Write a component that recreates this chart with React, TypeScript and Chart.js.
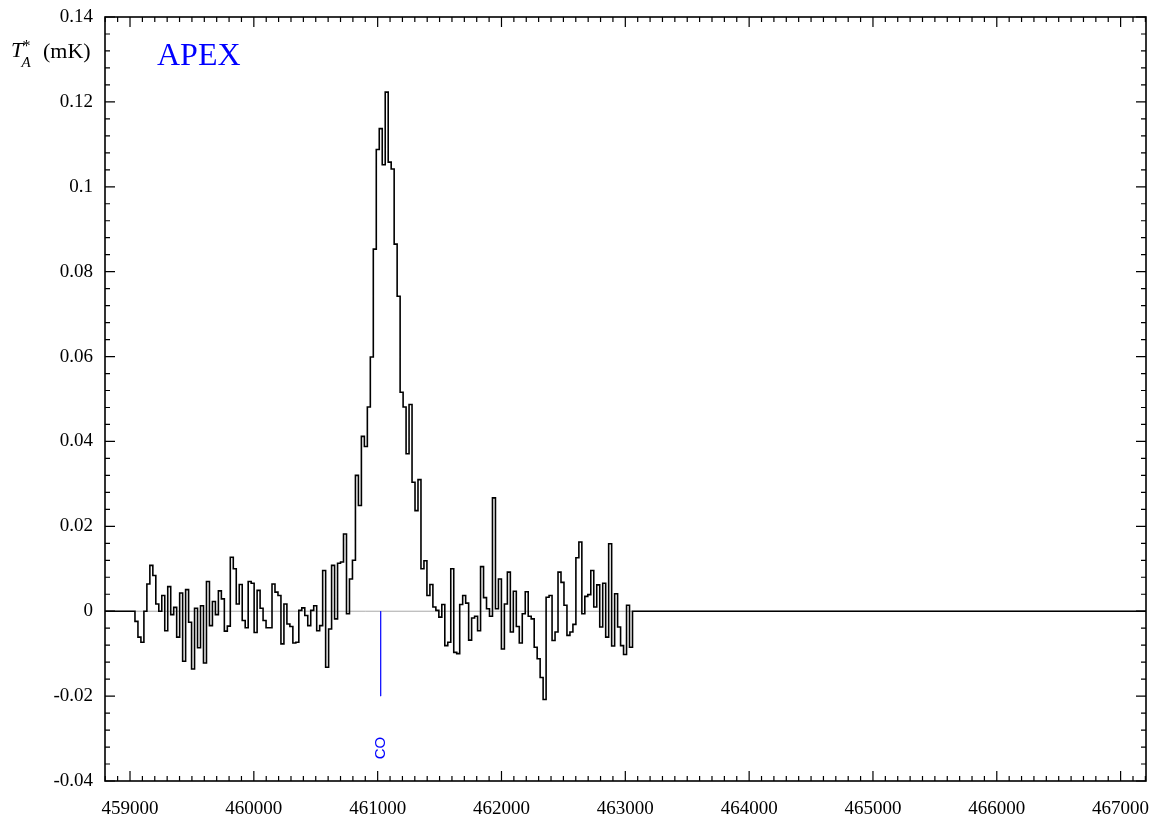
import { useEffect, useRef } from 'react';
import { Chart, registerables } from 'chart.js';

Chart.register(...registerables);

// ---- axis ranges & ticks ----
const X_MIN = 458798;
const X_MAX = 467205;
const Y_MIN = -0.04;
const Y_MAX = 0.14;
const X_TICKS = [459000, 460000, 461000, 462000, 463000, 464000, 465000, 466000, 467000];
const Y_TICKS = [-0.04, -0.02, 0, 0.02, 0.04, 0.06, 0.08, 0.1, 0.12, 0.14];
const X_MAJOR_STEP = 1000;
const X_MINOR_STEP = 100;
const Y_MAJOR_STEP = 0.02;
const Y_MINOR_STEP = 0.004;

// ---- spectrum channel grid (MHz) ----
const CHANNEL_START_MHZ = 459040;
const CHANNEL_WIDTH_MHZ = 24.06;

// ---- spectrum values (K), channel by channel ----
const baselineLeft = [
  -0.0024, -0.0061, -0.0073, 0.0, 0.0064, 0.0108, 0.0084, 0.0017, 0.0, 0.0037,
  -0.0046, 0.0058, -0.0008, 0.0009, -0.0061, 0.0043, -0.0118, 0.0051, -0.0026, -0.0136,
  0.0007, -0.0086, 0.0013, -0.0122, 0.007, -0.0034, 0.0023, -0.0008, 0.0048, 0.0029,
  -0.0047, -0.0035, 0.0127, 0.01, 0.0017, 0.0063, -0.0022, -0.0039, 0.007, 0.0066,
  -0.005, 0.0049, 0.0007, -0.0022, -0.0039, -0.0039, 0.0064, 0.0045, 0.0037, -0.0077,
  0.0017, -0.003, -0.0036, -0.0075, -0.0073, 0.0002, 0.0008, -0.001, -0.0034, 0.0002,
  0.0013, -0.0046, -0.0034, 0.0096, -0.0132, -0.0042, 0.0108, -0.0018, 0.0113, 0.0116,
  0.0182, -0.0006, 0.0076, 0.012,
];
const lineCore = [
  0.032, 0.0249, 0.0412, 0.0388, 0.0481, 0.0599, 0.0853, 0.1088, 0.1137, 0.1052,
  0.1223, 0.1058, 0.1042, 0.0865, 0.0742, 0.0516, 0.0481, 0.0371, 0.0487, 0.0304,
  0.0237, 0.031,
];
const baselineRight = [
  0.01, 0.0119, 0.0037, 0.0063, 0.001, 0.0002, -0.0014, 0.0016, -0.0081, -0.0073,
  0.01, -0.0097, -0.01, 0.0016, 0.0037, 0.0019, -0.0068, -0.0016, -0.0012, -0.0046,
  0.0105, 0.0032, 0.0006, -0.0012, 0.0267, 0.0006, 0.0076, -0.0089, 0.0017, 0.0092,
  -0.0049, 0.0047, -0.0036, -0.0075, -0.0006, 0.0046, -0.0012, -0.0018, -0.0085, -0.0112,
  -0.0156, -0.0208, 0.0033, 0.0037, -0.0069, -0.0049, 0.0092, 0.0068, 0.0014, -0.0057,
  -0.0049, -0.0031, 0.0126, 0.0163, -0.0006, 0.0035, 0.0039, 0.0096, 0.001, 0.0062,
  -0.0037, 0.0066, -0.0061, 0.0159, -0.0082, 0.0041, -0.0037, -0.0081, -0.0102, 0.0014,
  -0.0085,
];

// ---- line identification marker ----
const markerFreq = 461024;
const markerBottom = -0.02;
const markerLabel = 'CO';
const telescopeLabel = 'APEX';

const SERIF = '"Liberation Serif", "Times New Roman", Times, serif';
const SANS = '"Liberation Sans", Arial, Helvetica, sans-serif';

const spectrumValues = [...baselineLeft, ...lineCore, ...baselineRight];

function buildSpectrumPoints() {
  const pts: { x: number; y: number }[] = [{ x: X_MIN, y: 0 }];
  spectrumValues.forEach((v, i) => {
    pts.push({ x: CHANNEL_START_MHZ + i * CHANNEL_WIDTH_MHZ, y: v });
  });
  pts.push({ x: CHANNEL_START_MHZ + spectrumValues.length * CHANNEL_WIDTH_MHZ, y: 0 });
  pts.push({ x: X_MAX, y: 0 });
  return pts;
}

const framePlugin = {
  id: 'frameAndTicks',
  afterDatasetsDraw(chart: any) {
    const { ctx, chartArea } = chart;
    const xs = chart.scales.x;
    const ys = chart.scales.y;
    const { left, right, top, bottom } = chartArea;
    ctx.save();
    ctx.strokeStyle = '#000';
    ctx.lineWidth = 1.2;
    ctx.beginPath();
    const nx = Math.round((X_MAX - X_MIN) / X_MINOR_STEP) + 2;
    const fStart = Math.ceil(X_MIN / X_MINOR_STEP) * X_MINOR_STEP;
    for (let i = 0; i < nx; i++) {
      const f = fStart + i * X_MINOR_STEP;
      if (f > X_MAX) break;
      const px = xs.getPixelForValue(f);
      const major = Math.round(f) % X_MAJOR_STEP === 0;
      const len = major ? 10 : 5;
      ctx.moveTo(px, bottom);
      ctx.lineTo(px, bottom - len);
      ctx.moveTo(px, top);
      ctx.lineTo(px, top + len);
    }
    const ny = Math.round((Y_MAX - Y_MIN) / Y_MINOR_STEP);
    for (let i = 0; i <= ny; i++) {
      const v = Y_MIN + i * Y_MINOR_STEP;
      const py = ys.getPixelForValue(v);
      const major = i % Math.round(Y_MAJOR_STEP / Y_MINOR_STEP) === 0;
      const len = major ? 10 : 5;
      ctx.moveTo(left, py);
      ctx.lineTo(left + len, py);
      ctx.moveTo(right, py);
      ctx.lineTo(right - len, py);
    }
    ctx.stroke();
    ctx.lineWidth = 1.6;
    ctx.strokeRect(left, top, right - left, bottom - top);
    ctx.restore();
  },
  afterDraw(chart: any) {
    const { ctx } = chart;
    const xs = chart.scales.x;
    const ys = chart.scales.y;
    ctx.save();
    // telescope label
    ctx.fillStyle = '#0000ff';
    ctx.font = `32px ${SERIF}`;
    ctx.textAlign = 'left';
    ctx.textBaseline = 'alphabetic';
    ctx.fillText(telescopeLabel, 157, 65);
    // marker label
    const mx = xs.getPixelForValue(markerFreq);
    const my = ys.getPixelForValue(markerBottom) + 52;
    ctx.save();
    ctx.translate(mx, my);
    ctx.rotate(-Math.PI / 2);
    ctx.font = `15px ${SANS}`;
    ctx.textAlign = 'center';
    ctx.textBaseline = 'middle';
    ctx.fillText(markerLabel, 0, 0);
    ctx.restore();
    // y axis title  T*_A (mK)
    ctx.fillStyle = '#000';
    ctx.textBaseline = 'alphabetic';
    ctx.textAlign = 'left';
    ctx.font = `italic 22px ${SERIF}`;
    ctx.fillText('T', 11, 57);
    ctx.font = `italic 15px ${SERIF}`;
    ctx.fillText('A', 21.5, 66.5);
    ctx.font = `16px ${SERIF}`;
    ctx.fillText('*', 22.5, 51);
    ctx.font = `22px ${SERIF}`;
    ctx.fillText('(mK)', 43, 58);
    ctx.restore();
  },
};

export default function App() {
  const canvasRef = useRef<HTMLCanvasElement | null>(null);

  useEffect(() => {
    const canvas = canvasRef.current;
    if (!canvas) return;
    const chart = new Chart(canvas, {
      type: 'line',
      data: {
        datasets: [
          {
            label: 'spectrum',
            data: buildSpectrumPoints(),
            borderColor: '#000',
            borderWidth: 1.6,
            pointRadius: 0,
            stepped: 'before',
            fill: false,
            order: 0,
          },
          {
            label: 'zero',
            data: [
              { x: X_MIN, y: 0 },
              { x: X_MAX, y: 0 },
            ],
            borderColor: '#a8a8a8',
            borderWidth: 1,
            pointRadius: 0,
            fill: false,
            order: 2,
          },
          {
            label: 'marker',
            data: [
              { x: markerFreq, y: 0 },
              { x: markerFreq, y: markerBottom },
            ],
            borderColor: '#1a1aff',
            borderWidth: 1,
            pointRadius: 0,
            fill: false,
            order: 1,
          },
        ],
      },
      options: {
        responsive: false,
        animation: false,
        events: [],
        layout: { padding: { top: 17, right: 15, left: 0, bottom: 0 } },
        plugins: {
          legend: { display: false },
          tooltip: { enabled: false },
          title: { display: false },
        },
        scales: {
          x: {
            type: 'linear',
            min: X_MIN,
            max: X_MAX,
            grid: { display: false, drawTicks: false },
            border: { display: false },
            afterBuildTicks: (s: any) => {
              s.ticks = X_TICKS.map((value) => ({ value }));
            },
            ticks: {
              autoSkip: false,
              maxRotation: 0,
              minRotation: 0,
              padding: 17,
              color: '#000',
              font: { family: SERIF, size: 19 },
              callback: (v: any) => String(Math.round(Number(v))),
            },
            afterFit: (s: any) => {
              s.height = 33;
              s.paddingLeft = 0;
              s.paddingRight = 0;
            },
          },
          y: {
            type: 'linear',
            min: Y_MIN,
            max: Y_MAX,
            grid: { display: false, drawTicks: false },
            border: { display: false },
            afterBuildTicks: (s: any) => {
              s.ticks = Y_TICKS.map((value) => ({ value }));
            },
            ticks: {
              autoSkip: false,
              padding: 12,
              color: '#000',
              font: { family: SERIF, size: 19 },
              callback: (v: any) => String(Math.round(Number(v) * 1000) / 1000 || 0),
            },
            afterFit: (s: any) => {
              s.width = 105;
              s.paddingTop = 0;
              s.paddingBottom = 0;
            },
          },
        },
      },
      plugins: [framePlugin],
    } as any);
    return () => chart.destroy();
  }, []);

  return (
    <div style={{ position: 'absolute', left: 0, top: 0, width: 1161, height: 814, background: '#fff' }}>
      <canvas ref={canvasRef} width={1161} height={814} style={{ display: 'block' }} />
    </div>
  );
}
